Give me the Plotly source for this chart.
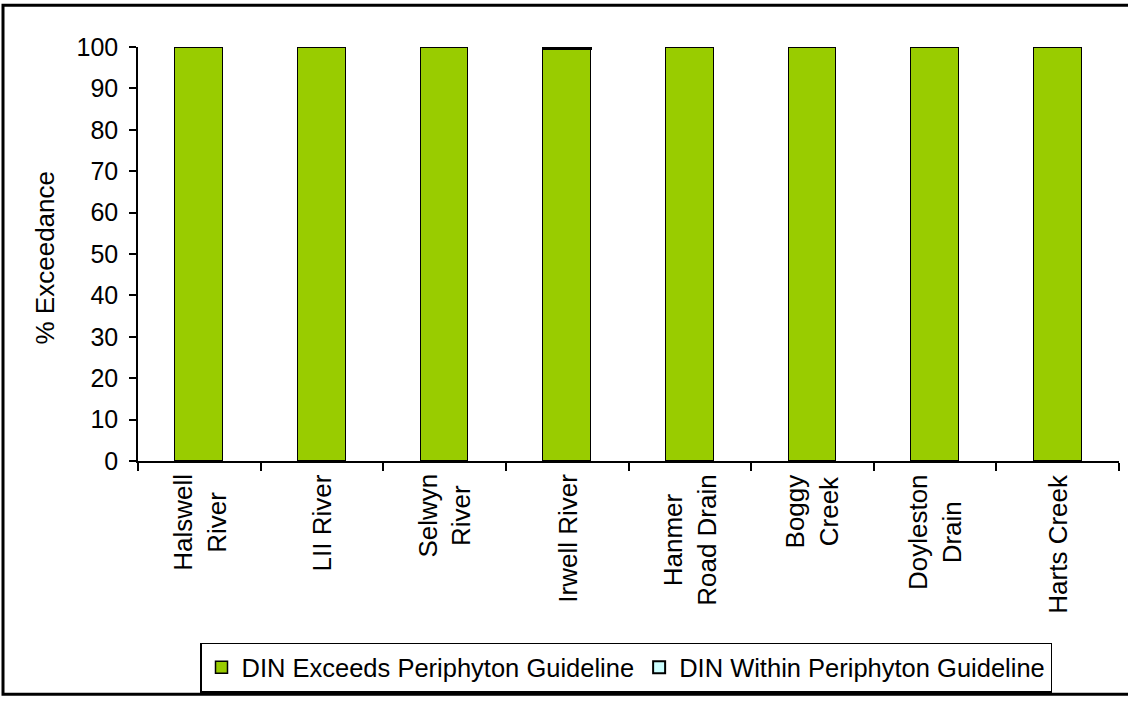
import plotly.graph_objects as go

# Sites and percentage of samples relative to the periphyton DIN guideline
sites = ["Halswell<br>River", "LII River", "Selwyn<br>River", "Irwell River",
         "Hanmer<br>Road Drain", "Boggy<br>Creek", "Doyleston<br>Drain", "Harts Creek"]
site_keys = ["Halswell", "LII", "Selwyn", "Irwell", "Hanmer", "Boggy", "Doyleston", "Harts"]
exceeds = [100, 100, 100, 99.5, 100, 100, 100, 100]
within = [0, 0, 0, 0.5, 0, 0, 0, 0]

FONT = "Liberation Sans, Arial, sans-serif"

fig = go.Figure()
fig.add_trace(go.Bar(
    x=site_keys, y=exceeds, name="DIN Exceeds Periphyton Guideline",
    marker=dict(color="#99CC00", line=dict(color="black", width=1.5)),
    width=0.39,
))
fig.add_trace(go.Bar(
    x=site_keys, y=within, name="DIN Within Periphyton Guideline",
    marker=dict(color="#CCFFFF", line=dict(color="black", width=2)),
    width=0.39,
))

# Pixel geometry of the plotting area
L, R, T, B = 138, 9, 47, 237
W, H = 1128, 701
pw, ph = W - L - R, H - T - B


def px_x(p):
    return (p - L) / pw


def px_y(p):
    return (H - B - p) / ph


annotations = []
# Category labels, rotated with centred lines
for key, label in zip(site_keys, sites):
    annotations.append(dict(
        x=key, y=0, xref="x", yref="paper", text=label, showarrow=False,
        textangle=-90, xanchor="center", yanchor="top", align="center",
        yshift=-11, font=dict(family=FONT, size=26, color="black"),
    ))
# Y-axis title
annotations.append(dict(
    x=px_x(45), y=px_y(260), xref="paper", yref="paper", text="% Exceedance",
    showarrow=False, textangle=-90, xanchor="center", yanchor="middle",
    font=dict(family=FONT, size=26, color="black"),
))

fig.update_layout(
    width=W, height=H,
    margin=dict(l=L, r=R, t=T, b=B, pad=0),
    paper_bgcolor="white", plot_bgcolor="white",
    barmode="stack", bargap=0,
    font=dict(family=FONT, size=24, color="black"),
    showlegend=True,
    legend=dict(
        orientation="h", x=px_x(626), xanchor="center", y=px_y(647), yanchor="top",
        bordercolor="black", borderwidth=1.5, bgcolor="white",
        font=dict(family=FONT, size=25.5, color="black"),
        itemwidth=30, traceorder="normal",
    ),
    xaxis=dict(
        type="category", showticklabels=False, tickson="boundaries",
        ticks="outside", ticklen=8, tickcolor="black", tickwidth=1.5,
        showline=True, linecolor="black", linewidth=1.5, showgrid=False,
        zeroline=False,
    ),
    yaxis=dict(
        range=[0, 100], dtick=10, ticks="outside", ticklen=7, tickcolor="black",
        tickwidth=1.5, showline=True, linecolor="black", linewidth=1.5,
        showgrid=False, zeroline=False, ticklabelstandoff=6,
        tickfont=dict(family=FONT, size=25, color="black"),
    ),
    annotations=annotations,
    shapes=[
        # Outer chart frame
        dict(type="rect", xref="paper", yref="paper",
             x0=px_x(3), x1=px_x(1131), y0=px_y(699), y1=px_y(5),
             line=dict(color="black", width=3), fillcolor="rgba(0,0,0,0)"),
    ],
)

fig.write_html("out.html")
